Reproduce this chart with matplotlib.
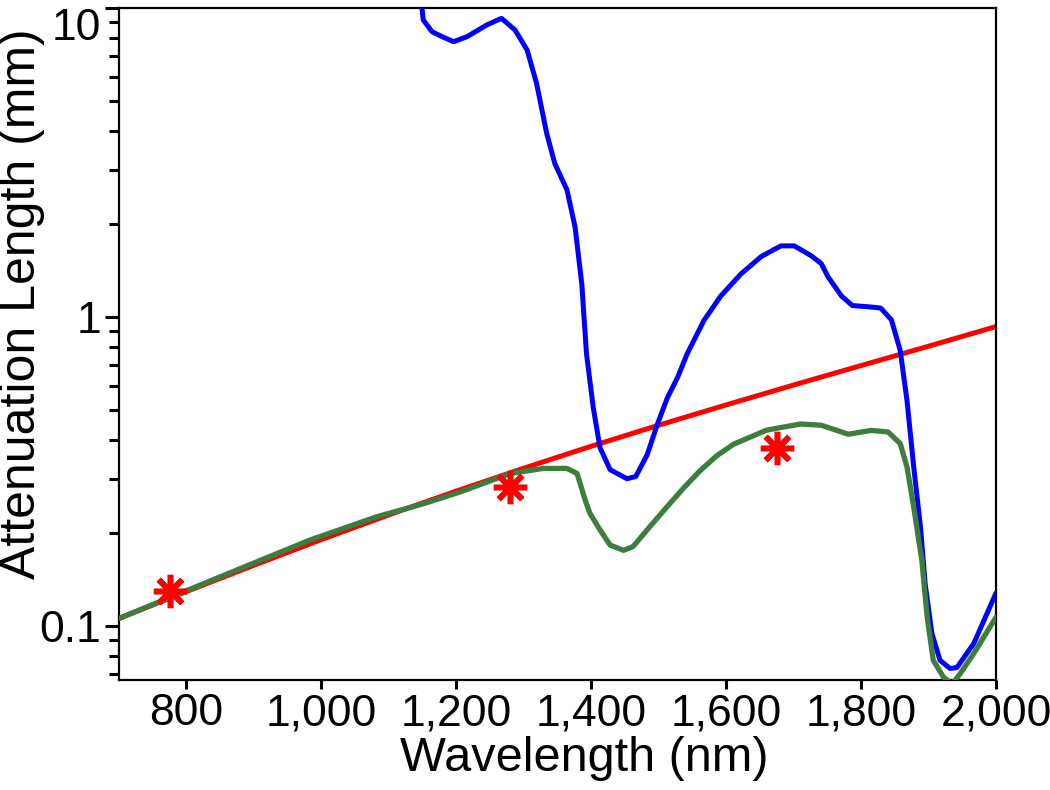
import matplotlib
matplotlib.use("Agg")
import matplotlib.pyplot as plt
from matplotlib.ticker import FixedLocator, FuncFormatter, LogLocator, NullFormatter

plt.rcParams["font.family"] = ["Liberation Sans", "DejaVu Sans"]

# 산란 한계 (빨간 직선)
red_wl = [700, 800, 900, 1000, 1100, 1200, 1300, 1400, 1500, 1600,
          1700, 1800, 1900, 2000]
red_len = [0.106, 0.1295, 0.1575, 0.1907, 0.2292, 0.2737, 0.3245, 0.3822,
           0.447, 0.520, 0.603, 0.697, 0.805, 0.932]

# 흡수 길이 (파란 곡선)
blue_wl = [1147, 1151, 1164, 1181, 1196, 1216, 1245, 1267, 1287, 1305,
           1319, 1334, 1346, 1364, 1376, 1386, 1393, 1403, 1413, 1428,
           1453, 1466, 1483, 1498, 1513, 1528, 1542, 1567, 1592, 1622,
           1652, 1681, 1701, 1726, 1741, 1751, 1771, 1787, 1811, 1829,
           1845, 1858, 1868, 1878, 1888, 1895, 1905, 1917, 1932, 1942,
           1967, 2000]
blue_len = [11.0, 9.15, 8.38, 8.04, 7.78, 8.08, 8.81, 9.26, 8.49, 7.31,
            5.70, 3.93, 3.14, 2.58, 1.96, 1.28, 0.76, 0.51, 0.378, 0.321,
            0.300, 0.305, 0.359, 0.450, 0.549, 0.638, 0.759, 0.975, 1.17,
            1.38, 1.57, 1.70, 1.70, 1.58, 1.49, 1.35, 1.17, 1.09, 1.08,
            1.07, 0.98, 0.78, 0.539, 0.328, 0.210, 0.137, 0.0947, 0.0776,
            0.073, 0.0735, 0.0879, 0.128]

# 유효 감쇠 길이 (초록 곡선)
green_wl = [700, 776, 884, 983, 1082, 1151, 1206, 1280, 1329, 1364,
            1379, 1391, 1398, 1413, 1428, 1448, 1462, 1487, 1512, 1537,
            1561, 1586, 1611, 1660, 1710, 1741, 1781, 1815, 1840, 1858,
            1868, 1878, 1890, 1898, 1907, 1922, 1935, 1947, 1967, 2000]
green_len = [0.106, 0.124, 0.155, 0.190, 0.226, 0.249, 0.272, 0.312,
             0.324, 0.324, 0.312, 0.256, 0.232, 0.205, 0.183, 0.176,
             0.181, 0.210, 0.243, 0.280, 0.318, 0.356, 0.388, 0.431,
             0.451, 0.447, 0.418, 0.430, 0.425, 0.390, 0.328, 0.243,
             0.164, 0.107, 0.0776, 0.0685, 0.0650, 0.0703, 0.0816, 0.107]

# 측정점 (별표)
meas_wl = [775, 1280, 1675]
meas_len = [0.130, 0.282, 0.378]

fig = plt.figure(figsize=(10.5, 7.9), dpi=100)
ax = fig.add_axes([119 / 1050, 1 - 680 / 790, 877 / 1050, 672 / 790])

line_kw = dict(solid_joinstyle="round", solid_capstyle="round")
ax.plot(red_wl, red_len, color="#ff0000", lw=3.6, zorder=2, **line_kw)
ax.plot(blue_wl, blue_len, color="#0000ff", lw=3.6, zorder=3, **line_kw)
ax.plot(green_wl, green_len, color="#3d7d3d", lw=3.8, zorder=4, **line_kw)
ax.plot(meas_wl, meas_len, ls="none", marker=(8, 2, 0), ms=24,
        mew=4, color="#ff0000", zorder=5)

ax.set_yscale("log")
ax.set_xlim(700, 2000)
ax.set_ylim(0.067, 10)

ax.xaxis.set_major_locator(FixedLocator(range(800, 2001, 200)))
ax.xaxis.set_major_formatter(FuncFormatter(lambda v, p: f"{v:,.0f}"))
ax.yaxis.set_major_locator(FixedLocator([0.1, 1, 10]))
ax.yaxis.set_major_formatter(FuncFormatter(lambda v, p: f"{v:g}"))
ax.yaxis.set_minor_locator(LogLocator(base=10, subs=range(2, 10)))
ax.yaxis.set_minor_formatter(NullFormatter())

ax.tick_params(axis="both", which="both", direction="out", width=2.2,
               labelsize=32, color="black", pad=3)
ax.tick_params(axis="x", which="major", length=6.5)
ax.tick_params(axis="y", which="major", length=10)
ax.tick_params(axis="y", which="minor", length=7)
for s in ax.spines.values():
    s.set_linewidth(1.6)

fig.canvas.draw()
for lab in ax.get_yticklabels():
    if lab.get_text() == "10":
        lab.set_va("top")

ax.set_xlabel("Wavelength (nm)", fontsize=35)
ax.set_ylabel("Attenuation Length (mm)", fontsize=36)
ax.xaxis.set_label_coords(0.53, -0.083)
ax.yaxis.set_label_coords(-0.084, 0.56)

fig.savefig("out.png", dpi=100)
